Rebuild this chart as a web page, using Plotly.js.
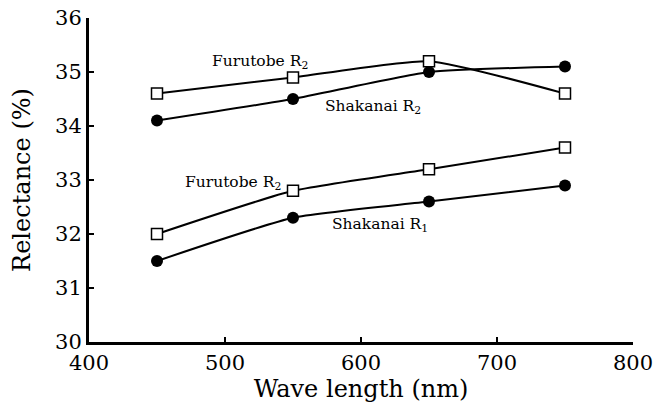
<!DOCTYPE html>
<html>
<head>
<meta charset="utf-8">
<script src="https://cdn.plot.ly/plotly-3.0.1.min.js"></script>
<style>html,body{margin:0;padding:0;background:#fff;}#chart{width:664px;height:406px;}</style>
</head>
<body>
<div id="chart"></div>
<script>
var wavelengths = [450, 550, 650, 750];
var furutobeR2 = [34.6, 34.9, 35.2, 34.6];
var shakanaiR2 = [34.1, 34.5, 35.0, 35.1];
var furutobeR1 = [32.0, 32.8, 33.2, 33.6];
var shakanaiR1 = [31.5, 32.3, 32.6, 32.9];

var labelTexts = ['Furutobe R<sub>2</sub>', 'Shakanai R<sub>2</sub>', 'Furutobe R<sub>2</sub>', 'Shakanai R<sub>1</sub>'];
var labelX = [526, 609, 506, 614];
var labelY = [35.19, 34.35, 32.94, 32.17];

var serif = 'DejaVu Serif, Liberation Serif, serif';
function sq(y, name){
  return {x: wavelengths, y: y, name: name, type: 'scatter', mode: 'lines+markers',
    line: {color: '#000', width: 2, shape: 'spline', smoothing: 0.5},
    marker: {symbol: 'square', size: 11, color: '#fff', line: {color: '#000', width: 1.5}}};
}
function ci(y, name){
  return {x: wavelengths, y: y, name: name, type: 'scatter', mode: 'lines+markers',
    line: {color: '#000', width: 2, shape: 'spline', smoothing: 0.5},
    marker: {symbol: 'circle', size: 12, color: '#000'}};
}
var data = [sq(furutobeR2, 'Furutobe R2'), ci(shakanaiR2, 'Shakanai R2'), sq(furutobeR1, 'Furutobe R1'), ci(shakanaiR1, 'Shakanai R1')];

var annotations = labelTexts.map(function(t, i){
  return {x: labelX[i], y: labelY[i], xref: 'x', yref: 'y', text: t, showarrow: false,
    font: {family: serif, size: 15.5, color: '#000'}};
});

var layout = {
  width: 664, height: 406,
  margin: {l: 89, r: 31, t: 18, b: 64},
  paper_bgcolor: '#fff', plot_bgcolor: '#fff',
  showlegend: false,
  font: {family: serif, color: '#000'},
  xaxis: {range: [400, 800], dtick: 100, tick0: 400, showgrid: false, zeroline: false,
    showline: true, linecolor: '#000', linewidth: 3, ticks: 'inside', ticklen: 5, tickwidth: 2, tickcolor: '#000',
    tickfont: {family: serif, size: 21, color: '#000'},
    title: {text: 'Wave length (nm)', font: {family: serif, size: 24, color: '#000'}, standoff: 0}},
  yaxis: {range: [30, 36], dtick: 1, showgrid: false, zeroline: false,
    showline: true, linecolor: '#000', linewidth: 3, ticks: 'inside', ticklen: 5, tickwidth: 2, tickcolor: '#000',
    tickfont: {family: serif, size: 21, color: '#000'},
    title: {text: 'Relectance (%)', font: {family: serif, size: 24, color: '#000'}, standoff: 18}},
  annotations: annotations
};
Plotly.newPlot('chart', data, layout, {displayModeBar: false, staticPlot: true});
</script>
</body>
</html>
